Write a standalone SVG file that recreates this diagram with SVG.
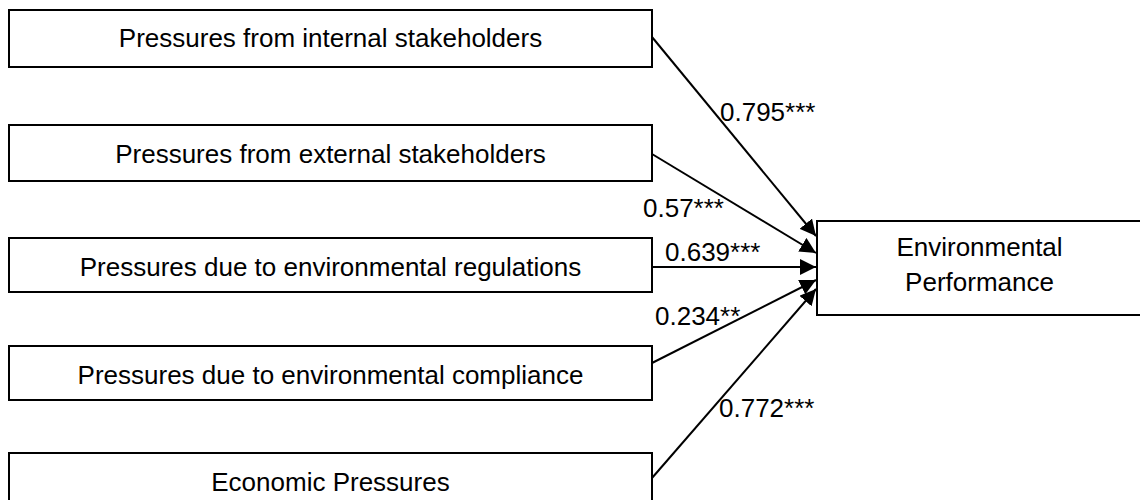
<svg xmlns="http://www.w3.org/2000/svg" width="1140" height="500" viewBox="0 0 1140 500">
<style>
  .box { fill: #ffffff; stroke: #000000; stroke-width: 2; }
  .t { font-family: "Liberation Sans", Arial, sans-serif; font-size: 26px; fill: #000000; }
  .c { text-anchor: middle; }
  .edge { stroke: #000000; stroke-width: 2; fill: none; marker-end: url(#arr); }
</style>
<defs>
  <marker id="arr" markerUnits="userSpaceOnUse" markerWidth="16" markerHeight="16" viewBox="0 0 14 14" refX="14" refY="7" orient="auto">
    <path d="M0,0 L14,7 L0,14 Z" fill="#000000"/>
  </marker>
</defs>
<rect width="1140" height="500" fill="#ffffff"/>
<g id="n1">
  <rect class="box" x="9" y="10" width="643" height="57"/>
  <text class="t c" x="330.5" y="47">Pressures from internal stakeholders</text>
</g>
<g id="n2">
  <rect class="box" x="9" y="125" width="643" height="56"/>
  <text class="t c" x="330.5" y="163">Pressures from external stakeholders</text>
</g>
<g id="n3">
  <rect class="box" x="9" y="238" width="643" height="54"/>
  <text class="t c" x="330.5" y="276">Pressures due to environmental regulations</text>
</g>
<g id="n4">
  <rect class="box" x="9" y="346" width="643" height="54"/>
  <text class="t c" x="330.5" y="384">Pressures due to environmental compliance</text>
</g>
<g id="n5">
  <rect class="box" x="9" y="453" width="643" height="60"/>
  <text class="t c" x="330.5" y="491">Economic Pressures</text>
</g>
<g id="ep">
  <rect class="box" x="817" y="221" width="330" height="94"/>
  <text class="t c" x="979.5" y="256">Environmental</text>
  <text class="t c" x="979.5" y="291">Performance</text>
</g>
<g id="connectors">
  <line class="edge" x1="652" y1="37" x2="816" y2="236"/>
  <line class="edge" x1="652" y1="154" x2="816" y2="253"/>
  <line class="edge" x1="652" y1="267" x2="816" y2="267"/>
  <line class="edge" x1="652" y1="363" x2="816" y2="280"/>
  <line class="edge" x1="652" y1="478" x2="816" y2="289"/>
  <text class="t" x="720" y="121">0.795***</text>
  <text class="t" x="643" y="217">0.57***</text>
  <text class="t" x="665" y="261">0.639***</text>
  <text class="t" x="655" y="325">0.234**</text>
  <text class="t" x="719" y="417">0.772***</text>
</g>
</svg>
